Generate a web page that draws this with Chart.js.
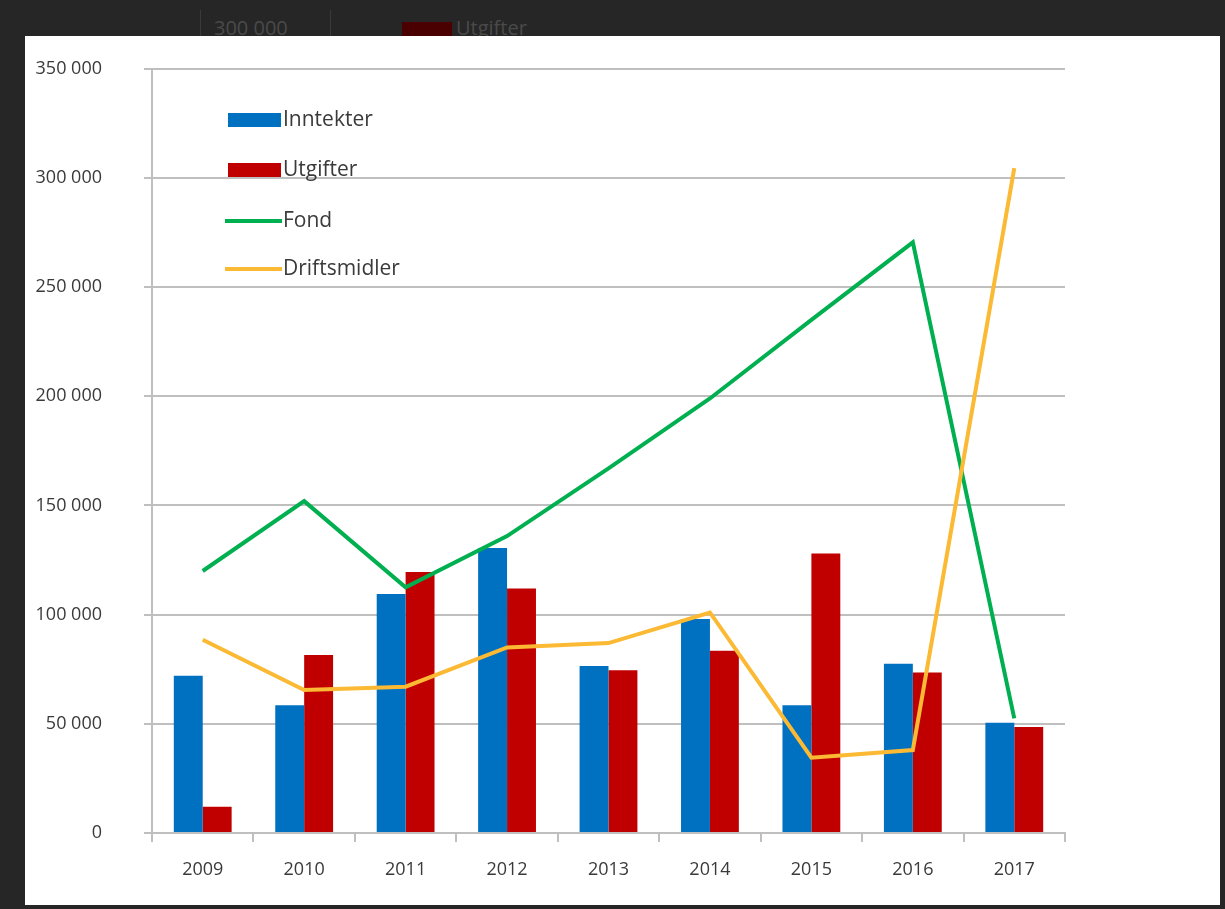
<!DOCTYPE html>
<html>
<head>
<meta charset="utf-8">
<script src="https://cdn.jsdelivr.net/npm/chart.js@4/dist/chart.umd.min.js"></script>
<style>
  html, body { margin: 0; padding: 0; }
  body { width: 1225px; height: 909px; background: #262626; position: relative; overflow: hidden; font-family: "Open Sans", sans-serif; }
  .behind { position: absolute; color: #4a4a4a; font-size: 20px; top: 14px; }
  .sep { position: absolute; top: 10px; width: 1px; height: 30px; background: #3a3a3a; }
  #panel { position: absolute; left: 25px; top: 36px; width: 1195px; height: 869px; background: #fff; }
  #chart { position: absolute; left: 0; top: -20px; }
</style>
</head>
<body>
<div class="sep" style="left:200px"></div>
<div class="sep" style="left:330px"></div>
<div class="behind" style="left:214px">300 000</div>
<div style="position:absolute;left:402px;top:22px;width:50px;height:16px;background:#4a0000"></div>
<div class="behind" style="left:456px">Utgifter</div>
<div id="panel"><canvas id="chart" width="1195" height="889"></canvas></div>
<script>
const years = ["2009", "2010", "2011", "2012", "2013", "2014", "2015", "2016", "2017"];
const inntekter = [72000, 58500, 109500, 130500, 76500, 98000, 58500, 77500, 50500];
const utgifter = [12000, 81500, 119500, 112000, 74500, 83500, 128000, 73500, 48500];
const fond = [120000, 152000, 112500, 136000, 167000, 199000, 235000, 270500, 52500];
const driftsmidler = [88500, 65500, 67000, 85000, 87000, 101000, 34500, 38000, 304500];
const yTicks = [0, 50000, 100000, 150000, 200000, 250000, 300000, 350000];

const textColor = "#3a3a3a";
const gridColor = "#bfbfbf";

const fmt = (v) => String(v).replace(/\B(?=(\d{3})+(?!\d))/g, " ");

// legend drawn inside the plot, Excel style
const insideLegend = {
  id: "insideLegend",
  afterDraw(chart) {
    const c = chart.ctx;
    const ys = [104, 154, 205, 253];
    c.save();
    c.font = "21px 'Open Sans'";
    c.textBaseline = "middle";
    chart.data.datasets.forEach((ds, k) => {
      const y = ys[k];
      if (ds.type === "line") {
        c.strokeStyle = ds.borderColor;
        c.lineWidth = 4;
        c.beginPath();
        c.moveTo(200, y);
        c.lineTo(257, y);
        c.stroke();
      } else {
        c.fillStyle = ds.backgroundColor;
        c.fillRect(203, y - 7, 53, 14);
      }
      c.fillStyle = textColor;
      c.textAlign = "left";
      c.fillText(ds.label, 258, y);
    });
    c.restore();
  },
};

new Chart(document.getElementById("chart"), {
  data: {
    labels: years,
    datasets: [
      { type: "bar", label: "Inntekter", data: inntekter, backgroundColor: "#0070c0", order: 2, categoryPercentage: 0.57, barPercentage: 1 },
      { type: "bar", label: "Utgifter", data: utgifter, backgroundColor: "#c00000", order: 2, categoryPercentage: 0.57, barPercentage: 1 },
      { type: "line", label: "Fond", data: fond, borderColor: "#00b050", borderWidth: 4, pointRadius: 0, tension: 0, order: 1 },
      { type: "line", label: "Driftsmidler", data: driftsmidler, borderColor: "#fbb934", borderWidth: 4, pointRadius: 0, tension: 0, order: 0 },
    ],
  },
  options: {
    responsive: false,
    animation: false,
    devicePixelRatio: 1,
    layout: { padding: { left: 0, top: 0, right: 155, bottom: 0 } },
    plugins: { legend: { display: false }, tooltip: { enabled: false } },
    scales: {
      x: {
        grid: { display: true, offset: true, drawOnChartArea: false, tickLength: 9, color: gridColor, lineWidth: 2 },
        border: { color: gridColor, width: 2 },
        ticks: { color: textColor, font: { family: "Open Sans", size: 18 }, padding: 17 },
        afterFit: (s) => { s.height = 72; },
      },
      y: {
        min: 0,
        max: 350000,
        afterBuildTicks: (s) => { s.ticks = yTicks.map((v) => ({ value: v })); },
        grid: { color: gridColor, lineWidth: 2, tickLength: 8 },
        border: { color: gridColor, width: 2 },
        ticks: { color: textColor, font: { family: "Open Sans", size: 18 }, padding: 42, callback: (v) => fmt(v) },
        afterFit: (s) => { s.width = 127; },
      },
    },
  },
  plugins: [insideLegend],
});
</script>
</body>
</html>
